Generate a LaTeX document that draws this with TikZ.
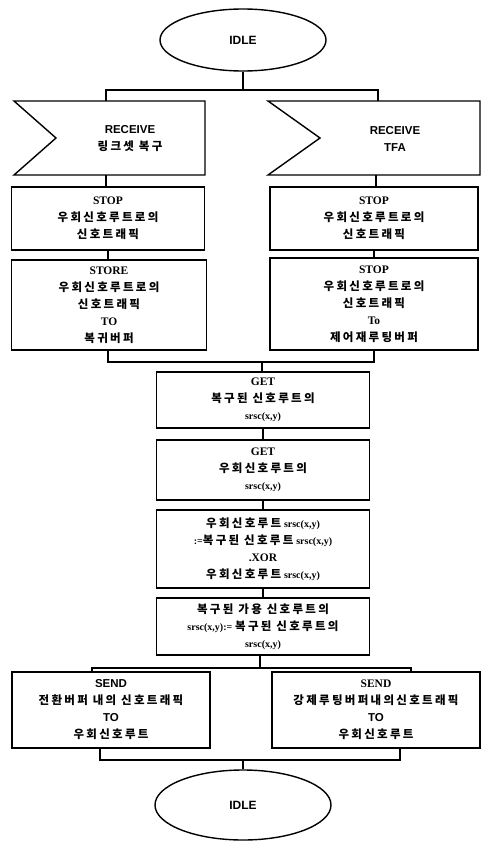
\documentclass[tikz,border=0pt]{standalone}
\usepackage{fontspec}
\setmainfont{Liberation Serif}
\newfontfamily\krf{Noto Sans CJK KR}[LetterSpace=20]
\newfontfamily\sansf{Liberation Sans}
\usetikzlibrary{shapes.geometric}
\tikzset{
  ln/.style={line width=1.4pt, line join=miter},
  box/.style={ln, draw, rectangle, align=center, inner sep=0pt,
    font=\fontsize{11.5}{17}\selectfont\bfseries},
  term/.style={ln, draw, ellipse, font=\sansf\bfseries\fontsize{12}{14}\selectfont},
  lbl/.style={align=center, inner sep=0pt, font=\fontsize{11.5}{17}\selectfont\bfseries},
}
\newcommand{\kr}[1]{{\krf\bfseries\fontsize{11.5}{17}\selectfont #1}}
\newcommand{\sr}[1]{{\fontsize{10}{10}\selectfont #1}}
\begin{document}
\begin{tikzpicture}[x=1pt,y=-1pt]
\useasboundingbox[fill=white] (0,0) rectangle (488,867);

% top terminal
\node[term, minimum width=166pt, minimum height=62pt] (idle1) at (243,40) {IDLE};
\coordinate (j1) at (243,90);
\coordinate (j1l) at (106,90);
\coordinate (j1r) at (378,90);

% receive shapes
\coordinate (rlt) at (106,101);
\coordinate (rlb) at (106,175);
\draw[ln] (14,101) -- (205,101) -- (205,175) -- (14,175) -- (56,138) -- cycle;
\node[lbl, font=\sansf\bfseries\fontsize{11.5}{17}\selectfont] (rl) at (130,139) {RECEIVE\\\kr{링크셋 복구}};

\coordinate (rrt) at (378,101);
\coordinate (rrb) at (376,175);
\draw[ln] (268,101) -- (480,101) -- (480,175) -- (268,175) -- (320,138) -- cycle;
\node[lbl, font=\sansf\bfseries\fontsize{11.5}{17}\selectfont] (rr) at (395,139) {RECEIVE\\TFA};

% left column
\node[box, minimum width=193pt, minimum height=63pt] (ls1) at (108,218.5)
  {STOP\\\kr{우회신호루트로의}\\\kr{신호트래픽}};
\node[box, minimum width=195pt, minimum height=90pt] (ls2) at (109,305)
  {STORE\\\kr{우회신호루트로의}\\\kr{신호트래픽}\\TO\\\kr{복귀버퍼}};

% right column
\node[box, minimum width=208pt, minimum height=63pt] (rs1) at (374,218.5)
  {STOP\\\kr{우회신호루트로의}\\\kr{신호트래픽}};
\node[box, minimum width=208pt, minimum height=92pt] (rs2) at (374,304)
  {STOP\\\kr{우회신호루트로의}\\\kr{신호트래픽}\\To\\\kr{제어재루팅버퍼}};

\coordinate (j2l) at (108,362);
\coordinate (j2r) at (374,362);
\coordinate (j2) at (262,362);

% center column
\node[box, minimum width=213pt, minimum height=56pt] (g1) at (263,400)
  {GET\\\kr{복구된 신호루트의}\\\sr{srsc(x,y)}};
\node[box, minimum width=213pt, minimum height=60pt] (g2) at (263,470)
  {GET\\\kr{우회신호루트의}\\\sr{srsc(x,y)}};
\node[box, minimum width=213pt, minimum height=78pt] (xr) at (263,549)
  {\kr{우회신호루트} \sr{srsc(x,y)}\\\sr{:=}\kr{복구된 신호루트} \sr{srsc(x,y)}\\.XOR\\\kr{우회신호루트} \sr{srsc(x,y)}};
\node[box, minimum width=213pt, minimum height=57pt] (rc) at (263,626.5)
  {\kr{복구된 가용 신호루트의}\\\sr{srsc(x,y):=} \kr{복구된 신호루트의}\\\sr{srsc(x,y)}};

\coordinate (j3) at (260,668);
\coordinate (j3l) at (92,668);
\coordinate (j3r) at (411,668);

% send boxes
\node[box, minimum width=198pt, minimum height=76pt] (sl) at (111,710)
  {{\sansf SEND}\\\kr{전환버퍼 내의 신호트래픽}\\{\sansf TO}\\\kr{우회신호루트}};
\node[box, minimum width=208pt, minimum height=76pt] (sr) at (376,710)
  {SEND\\\kr{강제루팅버퍼내의신호트래픽}\\{\sansf TO}\\\kr{우회신호루트}};

\coordinate (j4) at (243,760);
\coordinate (j4l) at (100,760);
\coordinate (j4r) at (400,760);

\node[term, minimum width=176pt, minimum height=70pt] (idle2) at (243,805) {IDLE};

% connectors
\draw[ln] (idle1.south) -- (j1);
\draw[ln] (rlt) -- (j1l) -- (j1r) -- (rrt);
\draw[ln] (rlb) -- (rlb |- ls1.north);
\draw[ln] (ls1.south) -- (ls1.south |- ls2.north);
\draw[ln] (rrb) -- (rrb |- rs1.north);
\draw[ln] (rs1.south) -- (rs2.north);
\draw[ln] (j2l |- ls2.south) -- (j2l) -- (j2r) -- (j2r |- rs2.south);
\draw[ln] (j2) -- (j2 |- g1.north);
\draw[ln] (g1.south) -- (g2.north);
\draw[ln] (g2.south) -- (xr.north);
\draw[ln] (xr.south) -- (rc.north);
\draw[ln] (j3 |- rc.south) -- (j3);
\draw[ln] (j3l |- sl.north) -- (j3l) -- (j3r) -- (j3r |- sr.north);
\draw[ln] (j4l |- sl.south) -- (j4l) -- (j4r) -- (j4r |- sr.south);
\draw[ln] (j4) -- (idle2.north);
\end{tikzpicture}
\end{document}
